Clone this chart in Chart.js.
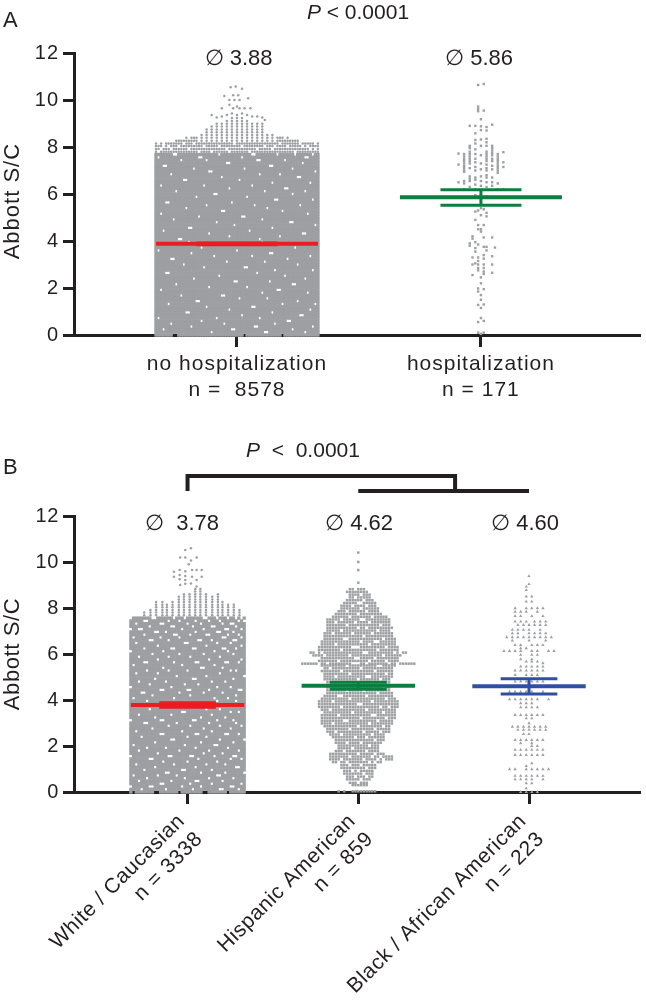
<!DOCTYPE html>
<html><head><meta charset="utf-8">
<script src="https://cdn.jsdelivr.net/npm/chart.js@4"></script>
<style>
html,body{margin:0;padding:0;background:#fff}
#page{position:relative;width:646px;height:1000px;overflow:hidden;font-family:"Liberation Sans",Arial,sans-serif;color:#231f20}
canvas{position:absolute;left:0}
.t{position:absolute;white-space:pre;line-height:1;transform:translateX(-50%)}
.l{position:absolute;line-height:1;font-size:22px}
</style></head><body><div id="page">
<canvas id="a" width="646" height="420" style="top:0;width:646px;height:420px"></canvas>
<canvas id="b" width="646" height="580" style="top:420px;width:646px;height:580px"></canvas>
<div class="l" style="left:3px;top:9px">A</div>
<div class="l" style="left:3px;top:456px">B</div>
<div class="t" style="left:358px;top:1px;font-size:21px"><i>P</i> &lt; 0.0001</div>
<div class="t" style="left:238.5px;top:47px;font-size:22px">∅ 3.88</div>
<div class="t" style="left:479px;top:47px;font-size:22px">∅ 5.86</div>
<div class="t" style="left:303px;top:439px;font-size:21px"><i>P</i>  &lt;  0.0001</div>
<div class="t" style="left:182px;top:512px;font-size:22px">∅  3.78</div>
<div class="t" style="left:359px;top:512px;font-size:22px">∅ 4.62</div>
<div class="t" style="left:525px;top:512px;font-size:22px">∅ 4.60</div>
</div>
<script>
// ---------- Panel A ----------
const labelsA = [["no hospitalization","n =  8578"],["hospitalization","n = 171"]];
const meansA = [3.88,5.86];
const ciLowA = [3.84,5.52];
const ciHighA = [3.92,6.18];
// dense group: [level, ...column positions left empty]
const noHospRows = [
[0,-25,-24,3,18],[0.12,-10,11,12,27],[0.24,-29,-2,-1,22],[0.36,-18,7,8,30],[0.48,-5,15,-26],[0.6,20,21,-14],[0.72,-31,-8,9],[0.84,2,25,26],
[0.96,-20,-19,14],[1.08,-3,29],[1.2,-12,6,7],[1.32,-27,18,31],[1.44,-16,-15,24],[1.56,1,12],[1.68,-22,-6,-5],[1.8,10,28],
[1.92,-30,16,17],[2.04,-11,4],[2.16,-24,22,23],[2.28,-1,0,13],[2.4,-17,27],[2.52,-7,19],[2.64,-28,-27,8],[2.76,15,30],
[2.88,-13,3,4],[3,-21,24],[3.12,-4,11],[3.24,-26,-25,20],[3.36,6,29,-9],[3.48,-18,13,14],[3.6,-31,0],[3.72,-14,23],[3.84],[3.96,-19,10],
[4.08,-23,-22,9],[4.2,17,-3],[4.32,-11,26,27],[4.44,-29,5],[4.56,-19,-18,14],[4.68,-1,31],[4.8,-8,21,22],[4.92,-25,10],
[5.04,-15,2,3],[5.16,28,-30],[5.28,-6,-5,18],[5.4,-20,12],[5.52,-12,25,7],[5.64,-28,-27,-2],[5.76,15,16,30],[5.88,-16,4],
[6,-9,-8,22],[6.12,-24,11,27],[6.24,-3,19,20],[6.36,-30,-13,6],[6.48,14,29],[6.6,-21,-20,1],[6.72,-6,24,25],[6.84,-26,9,17],
[6.96,-11,-10,31],[7.08,-17,3,22],[7.2,-29,-28,13,14],[7.32,-4,-3,26],[7.44,-22,8,9,19,-12],[7.56,-31,-15,-14,2,27,28],[7.68,-25,-24,-7,6,7,16,23,30]
];
// dots above the dense block: height of each column from left to right, then the levels they stand on
const noHospColumnTops = [8.2,8.1,8.15,8.1,8.2,8.15,8.2,8.2,8.3,8.3,8.35,8.3,8.4,8.35,8.45,8.4,8.5,8.2,8.55,8.2,8.75,8.2,8.9,8.2,9,8.2,9.1,8.2,9.2,8.2,9.3,8.2,9.3,8.2,9.3,8.2,9.2,8.2,9.1,8.2,9.1,8.2,9,8.2,8.6,8.2,8.6,8.2,8.5,8.4,8.45,8.35,8.4,8.3,8.3,8.3,8.3,8.2,8.25,8.2,8.2,8.15,8.2,8.1,8.15];
const crownLevelsA = [7.8,7.92,8.04,8.15,8.27,8.39,8.51,8.63,8.75,8.87,8.99,9.11,9.23];
// [column index, level] holes in the mottled top edge
const crownGapsA = [[1,7.8],[6,7.92],[3,8.04],[9,8.04],[13,7.92],[15,8.15],[19,8.04],[22,7.8],[25,8.04],[28,7.92],[31,8.15],[34,8.04],[37,7.8],[40,7.92],[43,8.04],[46,7.92],[49,8.15],[52,8.04],[55,7.8],[58,8.04],[61,7.92],[63,7.92],[11,8.15],[5,8.04],[17,7.8],[47,8.04],[57,8.15],[29,7.8],[2,7.92],[60,8.04]];
const noHospPeak = [[-2.5,10.54],[-0.5,10.57],[2,10.48],[-5,10.17],[-1.5,10.2],[0.5,10.2],[4.4,10.07],[-3,10],[-1,10],[1,10],[-6,9.65],[-3,9.8],[-1.5,9.65],[0,9.72],[1,9.65],[3,9.65],[5.3,9.65],[-10,9.36],[-8,9.26],[-6,9.3],[-4,9.36],[-2,9.43],[0,9.36],[2,9.43],[4,9.36],[6,9.3],[8,9.3],[10,9.26],[11,9.15]];
const hospColumns = [
[-8,[7.72,7.25,6.5]],[-6,[7.7,7.6,7.5,7.4,7.3,7.2,7.1,7,6.95,6.55,6.45,6.2]],
[-4,[8.9,8.05,7.95,7.8,7.7,7.6,7.5,7.4,7.3,7.1,6.75,6.65,6.55,6.3,3.9,3.8]],
[-3,[4.2,4.1,3.3,3,2.55]],
[-2,[8.9,8.58,8.3,8.15,7.9,7.7,7.5,7.35,7.15,7,6.7,6.6,6.4,6.2,5.95,5.25,4.9,3.95,3.7,3.55,3.05]],
[-1,[10.64,9.72,9.62,9.52,5.3,4.68,4.5,3.85,3.3,3.15,3,2.85,2.75,1.98,1.85,1.28,0.55,0.1]],
[0,[9.18,8.88,8.72,8.32,8.05,7.65,7.3,7.05,6.75,6.55,6.35,5.4,5.1,4.5,4.4,2.45,2.2,1.7,1.5,1.15,0.72,0.05]],
[1,[10.68,9.55,5.35,4.68,4.15,3.75,3.4,3.25,3,2.85,2.7,2.6,1.95,1.3,0.6,0.1]],
[2,[8.85,8.7,8.35,8.2,8.05,7.8,7.7,7.6,7.5,7.4,7.25,7.1,7,6.8,6.7,6.5,6.3,5.9,5.2,5.05,3.75,3.6]],
[4,[8.95,8.05,7.95,7.85,7.75,7.65,7.5,7.4,7.2,7.05,6.7,6.5,6.35,4.15,3.35,3,2.65]],
[5,[3.72]],
[6,[7.7,7.6,7.5,7.4,7.3,7.2,7.1,7,6.9,6.45,6.2]],[8,[7.78,7.35,7.15,6.2]]
];
// ---------- Panel B ----------
const labelsB = [["White / Caucasian","n = 3338"],["Hispanic American","n = 859"],["Black / African American","n = 223"]];
const meansB = [3.78,4.62,4.6];
const ciLowB = [3.68,4.47,4.26];
const ciHighB = [3.88,4.77,4.92];
const whiteRows = [
[0,-20,-12,-11,-3,6,7,15],[0.12,-17,-8,2,12,13,19],[0.24,-21,-14,-13,-2,5,16,17],[0.36,-10,-9,1,9,20],[0.48,-18,-6,3,4,13],[0.6,-15,-1,8,17],[0.72,-20,-11,-4,11,12],[0.84,-8,-7,5,14,21],
[0.96,-16,-2,-1,9],[1.08,-12,3,18,19],[1.2,-19,-5,7,14],[1.32,-9,0,11],[1.44,-14,-13,4,16,20],[1.56,-21,-7,-6,1,2,10,17,18],[1.68,-11,6,13],[1.8,-18,-3,8,19],
[1.92,-15,-8,3,15],[2.04,-20,-1,10,11],[2.16,-12,5,17],[2.28,-6,-5,12,21],[2.4,-17,0,7],[2.52,-10,-9,3,4,14,15,19],[2.64,-19,-2,9],[2.76,-13,6,16],
[2.88,-7,1,12,20],[3,-16,-15,-4,8,18],[3.12,-21,-10,-9,2,3,11,17],[3.24,-12,5,14],[3.36,-18,-6,9],[3.48,-2,-1,16,19],[3.6,-14,7,12],[3.72,-8,4],[3.84],[3.96,-15,11,18],
[4.08,-20,-5,10,15],[4.2,-13,1,18],[4.32,-17,-16,-3,6,13],[4.44,-10,-9,0,1,8,19,20],[4.56,-21,-6,11,16],[4.68,-14,-1,4],[4.8,-18,-8,9,14],[4.92,-12,2,3,17],
[5.04,-4,7,21],[5.16,-19,-11,12],[5.28,-15,-7,0,16,18],[5.4,-9,5,6,13],[5.52,-20,-2,10],[5.64,-16,-15,-5,3,4,14,15,19],[5.76,-11,8,20],[5.88,-18,-7,1,12],
[6,-13,-3,6,17],[6.12,-21,-9,10,15],[6.24,-16,-6,-5,2,3,13,14,18],[6.36,-11,7,20],[6.48,-19,-1,0,11,16],[6.6,-14,-13,-7,4,5,9,17,18],[6.72,-20,-10,-3,13,14,20],[6.84,-16,-5,-4,1,7,8,15,19],
[6.96,-12,-11,-8,3,11,12,17],[7.08,-21,-18,-17,-2,6,14,15,20],[7.2,-14,-6,-5,2,9,10,18],[7.32,-19,-10,-9,0,5,13,16,17],[7.44,-16,-15,-7,-3,3,8,12,19,21],[7.56,-21,-13,-12,-5,-1,6,7,11,15,18,20]
];
const whiteColumnPositions = [-7.4,-6.3,-5.3,-4.2,-3.4,-2.4,-1.3,-0.4,0.6,1.6,2.5,3.5,4.6,5.6,6.4,7.4,8.4,9.4];
const whiteColumnTops = [7.85,8,8.28,8.28,8.25,8.3,8.55,8.6,8.65,8.9,8.85,8.7,8.55,8.6,8.3,8.25,8.25,7.95];
const crownLevelsB = [7.68,7.8,7.91,8.03,8.14,8.26,8.37,8.49,8.6,8.72,8.83];
const whitePeak = [[0.6,10.6],[-0.4,10.52],[-1.3,10.2],[-0.4,10.2],[0.6,10.07],[1.6,10.2],[0.2,9.9],[-2.4,9.58],[-1.4,9.65],[-0.4,9.6],[0.8,9.65],[1.6,9.65],[2.5,9.65],[-2.4,9.36],[-1.4,9.43],[-0.4,9.39],[0.8,9.36],[1.6,9.22],[2.5,9.36],[-1.3,9],[-0.4,9.05],[0.6,9.07],[1.6,8.93],[-0.4,9.22],[-1.4,9.25]];
// [level, leftmost column, rightmost column, ...columns left empty]
const hispanicRows = [
[0.03,-7,6,-6,-4,-3],[0.3,-2,3],[0.4,-3,3,0],[0.55,-4,4,1],[0.67,-4,5,-1,3],[0.8,-5,5,2],[0.92,-5,5,-2,0],[1.05,-6,6,3],[1.17,-6,6,-3,1],[1.3,-9,8,-7,-4,4,6],[1.42,-10,12,-6,2,7,9],[1.54,-10,12,-3,5,8],[1.66,-10,9,0,6],[1.78,-8,7,-5,3],[1.9,-7,7,-2],[2.02,-7,7,4],[2.14,-8,8,-4,1],[2.26,-8,9,6],[2.38,-9,9,-1,3],[2.5,-10,9,-6,5],[2.62,-11,11,-8,2,8],[2.74,-11,11,-3,6],[2.86,-12,11,0,9],[2.98,-13,12,-9,4],[3.1,-13,12,-5,-4,7],[3.22,-13,13,1,10],[3.34,-13,13,-7,5,6],[3.46,-12,13,-2,9],[3.58,-13,13,-10,3],[3.7,-14,14,-6,8,11],[3.82,-14,14,0,1],[3.94,-14,14,-9,5],[4.06,-13,13,-3,10],[4.18,-12,12,-7,-6,3],[4.3,-11,12,7],[4.42,-11,11,-4,2],[4.54,-11,11,9],[4.66,-11,11],[4.78,-11,11,-5,5],[4.9,-12,11,0,8],[5.02,-12,12,-8,3,4],[5.14,-12,12,-3,10],[5.26,-13,12,-6,6],[5.38,-12,12,1,-10],[5.5,-13,13,-4,7,8],[5.58,-20,20,-14,-11,-2,-1,0,3,11,14],[5.7,-14,14,-7,4,10],[5.82,-13,14,-1,0,6],[5.94,-16,15,-12,-3,9],[6.06,-17,17,-15,-13,2,3,13,15],[6.18,-14,14,-6,7],[6.3,-14,14,-2,-1,0,10],[6.42,-13,13,-8,4],[6.54,-13,13,1,6,7],[6.66,-12,13,-5,-4,9],[6.78,-12,12,2],[6.9,-12,12,-9,-2,5],[7.02,-11,11,-6,7],[7.14,-11,12,0,3],[7.26,-11,11,-4,8],[7.38,-11,11,-8,-1,4],[7.5,-11,11,1,2,-6],[7.62,-9,10,-3,5],[7.74,-8,8,0],[7.86,-7,7,-4,3],[7.98,-6,7,1],[8.1,-6,6,-2,3],[8.22,-5,6,0,1],[8.34,-4,5,2],[8.46,-3,4,-1],[8.58,-3,4,1],[8.7,-4,3],[8.82,-3,2,-1],[9.1,0,0],[9.65,0,0],[10,0,0],[10.41,0,0]
];
// [level, ...columns holding a triangle]
const blackRows = [
[9.39,0],[9.04,0],[8.93,-1],[8.78,-1],[8.5,-1,1],[8.28,-1,1],[7.99,-5,-1,1,3,5],[7.84,-5,-3,-1,3],[7.65,-5,-3,1,5],
[7.41,-5,-3,-1,2,4,6],[7.26,-4,-2,0,2,4,6],[7.05,-6,-4,-2,0,4],[6.9,-6,-4,0,2,4,6],[6.73,-8,-6,-4,-2,0,2,4,6,8],[6.58,-6,0,6],[6.39,-5,-3,1,3,5],[6.25,-3,-1],[6.13,-9,-7,-5,-3,1,3,7,9],[5.96,-3,1,3],[5.77,-3,1],[5.67,-1,1,3],[5.6,5],[5.45,-3,-1,1,3,5],[5.28,-5,-3,-1,1,3,5],[5.09,-5,-1,1,3],[4.8,-5,-3,-1,1,3,5],[4.36,-7,-5,-3,-1,1,5],[4.03,-7,-5,-3,-1,1,3,7],[3.86,-3,-1,1],[3.68,-3,-1,1,3],[3.35,-5,-3,-1,1,3,5],[3.2,-1,1],[2.99,0],[2.84,-6,-4,-2,0,2,4,6],[2.7,-4,-2,0,2,4,6],[2.52,-2,0],[2.26,-5,-3,-1,1,3,5],[2.12,-3,1],[2,1,3],[1.83,-5,-3,-1,1,3,5],[1.61,-5,-3,-1,1,3,5],[1.25,1],[1.13,-1],[0.99,-7,-5,-1,1,3,5,7],[0.7,-5,-3,-1,1,3,5],[0.55,-5,-3,-1,1,5],[0.38,-1,1],[0.16,-1],[0,-3,-1,1,3]
];
// ---------- drawing ----------
const INK='#231f20', DOT='#9d9fa2';
const font=(s,extra)=>({family:'"Liberation Sans",Arial,sans-serif',size:s,...extra});
function dots(data,style,r,order){return {type:'scatter',data,pointStyle:style,pointRadius:r,pointBackgroundColor:DOT,pointBorderWidth:0,showLine:false,clip:false,order:order||5};}
function line(data,color,w,order){return {type:'scatter',data,showLine:true,pointRadius:0,borderColor:color,borderWidth:w,clip:false,order:order===undefined?1:order,borderCapStyle:'butt'};}
function meanMarks(c,m,lo,hi,color,w){return [
 line([{x:c-0.332,y:m},{x:c+0.332,y:m}],color,w,1),
 line([{x:c-0.166,y:lo},{x:c+0.166,y:lo}],color,3,1),
 line([{x:c-0.166,y:hi},{x:c+0.166,y:hi}],color,3,1),
 line([{x:c,y:lo},{x:c,y:hi}],color,3,1)];}
function makeChart(id,o){
 return new Chart(document.getElementById(id),{type:'scatter',data:{datasets:o.datasets},
  plugins:[{id:'spacing',beforeDraw(ch){ch.ctx.letterSpacing=o.spacing;}}],
  options:{responsive:false,animation:false,events:[],
   layout:{padding:{top:o.top,right:6,left:0,bottom:0}},
   plugins:{legend:{display:false},tooltip:{enabled:false},title:{display:false}},
   scales:{
    x:{type:'linear',min:o.xmin,max:o.xmax,
       afterBuildTicks(s){s.ticks=o.labels.map((_,i)=>({value:i+1}));},
       afterFit(s){s.height=o.xh;s.paddingLeft=0;s.paddingRight=0;},
       grid:{drawOnChartArea:false,drawTicks:true,tickLength:12,tickWidth:3,tickColor:INK},
       border:{color:INK,width:3},
       ticks:{autoSkip:false,color:INK,font:font(o.xfont),padding:o.xpad,labelOffset:o.xshift,minRotation:o.rot,maxRotation:o.rot,
              callback:v=>o.labels[v-1]}},
    y:{type:'linear',min:0,max:12,
       afterFit(s){s.width=74;s.paddingTop=0;s.paddingBottom=0;},
       grid:{drawOnChartArea:false,tickLength:11,tickWidth:3,tickColor:INK},
       border:{color:INK,width:3},
       ticks:{stepSize:2,color:INK,font:font(20),padding:4},
       title:{display:true,text:o.ytitle,color:INK,font:font(22),padding:{top:0,bottom:0}}}
   }}});
}
// Panel A marks
const stepA=0.01037, hospStep=0.0115, crownStepA=0.01037;
const noHospDots=[];
noHospRows.forEach(([y,...gaps])=>{for(let k=-32;k<=32;k++) if(!gaps.includes(k)) noHospDots.push({x:1+k*stepA,y});});
const noHospCrown=[];
noHospColumnTops.forEach((top,i)=>crownLevelsA.forEach(y=>{
  if(y<=top && !crownGapsA.some(g=>g[0]===i&&g[1]===y)) noHospCrown.push({x:1+(i-32)*stepA,y});}));
noHospPeak.forEach(([k,y])=>noHospCrown.push({x:1+k*crownStepA,y}));
const hospDots=[];
hospColumns.forEach(([k,ys])=>ys.forEach(y=>hospDots.push({x:2+k*hospStep,y})));
makeChart('a',{top:53,xh:85,xmin:0.332,xmax:2.652,labels:labelsA,xfont:21,xpad:5,xshift:0,rot:0,spacing:'1px',ytitle:'Abbott S/C  ',
 datasets:[dots(noHospDots,'rect',2.4),dots(noHospCrown,'circle',1.25),dots(hospDots,'rect',1.7),
  ...meanMarks(1,meansA[0],ciLowA[0],ciHighA[0],'#ed1c24',4),
  ...meanMarks(2,meansA[1],ciLowA[1],ciHighA[1],'#0a7f3f',4)]});
// Panel B marks
const stepW=0.0158, crownStepB=0.0332, stepH=0.0164, stepT=0.0163;
const whiteDots=[];
whiteRows.forEach(([y,...gaps])=>{for(let k=-21;k<=21;k++) if(!gaps.includes(k)) whiteDots.push({x:1+k*stepW,y});});
const whiteCrown=[];
whiteColumnTops.forEach((top,i)=>crownLevelsB.forEach(y=>{if(y<=top) whiteCrown.push({x:1+whiteColumnPositions[i]*crownStepB-0.008,y});}));
whitePeak.forEach(([k,y])=>whiteCrown.push({x:1+k*crownStepB,y}));
const hispDots=[];
hispanicRows.forEach(([y,L,R,...gaps])=>{for(let k=L;k<=R;k++) if(!gaps.includes(k)) hispDots.push({x:2+k*stepH,y});});
const blackDots=[];
blackRows.forEach(([y,...cols])=>cols.forEach(k=>blackDots.push({x:3+k*stepT,y})));
makeChart('b',{top:96,xh:208,xmin:0.335,xmax:3.65,labels:labelsB,xfont:21,xpad:5,xshift:-6,rot:45,spacing:'0.6px',ytitle:'Abbott S/C',
 datasets:[dots(whiteDots,'rect',2.35),dots(whiteCrown,'circle',1.25),dots(hispDots,'rect',1.75),dots(blackDots,'triangle',1.9),
  ...meanMarks(1,meansB[0],ciLowB[0],ciHighB[0],'#ed1c24',4),
  ...meanMarks(2,meansB[1],ciLowB[1],ciHighB[1],'#0a7f3f',4),
  ...meanMarks(3,meansB[2],ciLowB[2],ciHighB[2],'#2f4fa2',4),
  line([{x:1,y:13.09},{x:1,y:13.74},{x:2.567,y:13.74},{x:2.567,y:13.09}],INK,4,0),
  line([{x:2,y:13.09},{x:3,y:13.09}],INK,4,0)]});
</script></body></html>
